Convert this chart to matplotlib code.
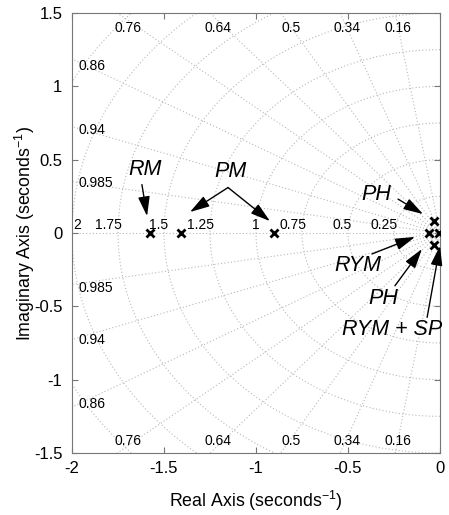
import numpy as np
import matplotlib
matplotlib.use("Agg")
import matplotlib.pyplot as plt

plt.rcParams['font.family'] = ['Liberation Sans', 'DejaVu Sans']
plt.rcParams['mathtext.default'] = 'regular'

# ---- data ----
pole_re = [-1.576, -1.408, -0.902, -0.033, -0.033, -0.062, -0.008]
pole_im = [0.0, 0.0, 0.0, 0.083, -0.080, 0.0, 0.0]

zetas = [0.16, 0.34, 0.5, 0.64, 0.76, 0.86, 0.94, 0.985]
zeta_labels = ['0.16', '0.34', '0.5', '0.64', '0.76', '0.86', '0.94', '0.985']
wns = [0.25, 0.5, 0.75, 1.0, 1.25, 1.5, 1.75, 2.0, 2.25, 2.5]
wn_labels = ['0.25', '0.5', '0.75', '1', '1.25', '1.5', '1.75', '2']

xticks = [-2, -1.5, -1, -0.5, 0]
xticklabels = ['-2', '-1.5', '-1', '-0.5', '0']
yticks = [-1.5, -1, -0.5, 0, 0.5, 1, 1.5]
yticklabels = ['-1.5', '-1', '-0.5', '0', '0.5', '1', '1.5']

# annotations: (text, text_xy, [arrow tips], arrow start)
annots = [
    ('RM', (-1.603, 0.434), [(-1.592, 0.115)], (-1.62, 0.33)),
    ('PM', (-1.141, 0.421), [(-1.359, 0.143), (-0.924, 0.081)], (-1.152, 0.31)),
    ('PH', (-0.348, 0.265), [(-0.092, 0.129)], (-0.228, 0.231)),
    ('RYM', (-0.446, -0.224), [(-0.136, -0.027)], (-0.370, -0.143)),
    ('PH', (-0.310, -0.448), [(-0.098, -0.109)], (-0.245, -0.36)),
    ('RYM + SP', (-0.26, -0.66), [(0.0, -0.088)], (-0.07, -0.575)),
]

xlim = (-2, 0)
ylim = (-1.5, 1.5)

fig = plt.figure(figsize=(4.49, 5.15), dpi=100)
ax = fig.add_axes([72/449, 62/515, 368/449, 440/515])
ax.set_xlim(*xlim)
ax.set_ylim(*ylim)

gcol = '#b8b8b8'
gkw = dict(color=gcol, linestyle=(0, (1, 2)), lw=0.8, zorder=1)
th = np.linspace(np.pi/2, 3*np.pi/2, 400)
for wn in wns:
    ax.plot(wn*np.cos(th), wn*np.sin(th), **gkw)
R = 3.0
for z in zetas:
    s = np.sqrt(1 - z*z)
    ax.plot([0, -R*z], [0, R*s], **gkw)
    ax.plot([0, -R*z], [0, -R*s], **gkw)
ax.plot([-R, 0], [0, 0], **gkw)
ax.plot([0, 0], [-R, R], **gkw)

fs_g = 10
# damping labels
for z, lab in zip(zetas, zeta_labels):
    s = np.sqrt(1 - z*z)
    xt = -1.40*z/s
    if xt > -1.9:
        if xt < -1.1:
            xt -= 0.04 if xt > -1.5 else 0.06
        ax.text(xt, 1.40, lab, ha='center', va='center', fontsize=fs_g)
        ax.text(xt, -1.42, lab, ha='center', va='center', fontsize=fs_g)
    else:
        yt = 1.9*s/z
        ax.text(-1.965, yt + 0.01, lab, ha='left', va='center', fontsize=fs_g)
        ax.text(-1.965, -yt - 0.04, lab, ha='left', va='center', fontsize=fs_g)

# natural frequency labels
for wn, lab in zip(wns, wn_labels):
    if wn >= 2.0:
        ax.text(-wn + 0.005, 0.008, lab, ha='left', va='bottom', fontsize=fs_g)
    else:
        ax.text(-wn + 0.022, 0.008, lab, ha='right', va='bottom', fontsize=fs_g)

ax.plot(pole_re, pole_im, 'x', color='k', ms=6, mew=2, zorder=5)

for txt, txy, tips, start in annots:
    ax.text(txy[0], txy[1], txt, ha='center', va='center', fontsize=15.5,
            style='italic', zorder=6)
    for tip in tips:
        ax.annotate('', xy=tip, xytext=start,
                    arrowprops=dict(arrowstyle='-|>,head_length=1.0,head_width=0.3',
                                    mutation_scale=12,
                                    color='k', lw=1.0, shrinkA=0, shrinkB=0),
                    zorder=6)

ax.set_xticks(xticks)
ax.set_xticklabels(xticklabels)
ax.set_yticks(yticks)
ax.set_yticklabels(yticklabels)
ax.tick_params(direction='in', top=True, right=True, labelsize=12, length=4,
               color='#777777')
ax.tick_params(axis='x', pad=6)
ax.tick_params(axis='y', pad=7)
for sp in ax.spines.values():
    sp.set_color('#777777')
    sp.set_linewidth(0.8)

ax.set_xlabel('Real Axis (seconds$^{-1}$)', fontsize=12.8, labelpad=9)
ax.set_ylabel('Imaginary Axis (seconds$^{-1}$)', fontsize=12.8, labelpad=-2)

fig.savefig('out.png', dpi=100)
